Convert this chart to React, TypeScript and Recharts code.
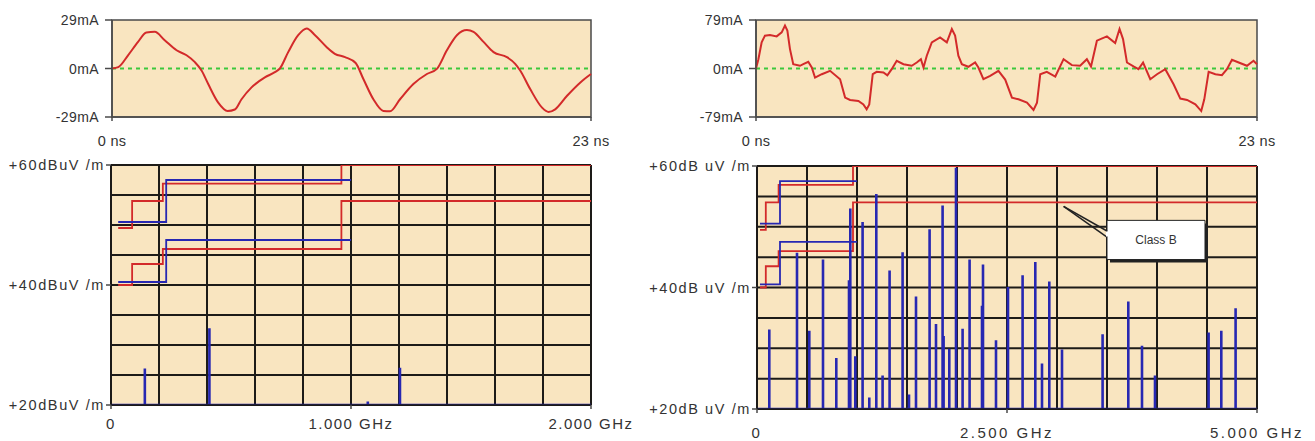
import React from "react";
import { LineChart, Line, XAxis, YAxis, CartesianGrid, ReferenceLine, ReferenceArea } from "recharts";

const BG = "#f9e5c0";
const RED = "#d32a2a";
const BLUE = "#2727b2";
const GRID = "#1d1b18";
const FRAME = "#4a4a4a";
const TEXT = "#333333";
const GREEN = "#3cc83c";
const FONT = "'Liberation Sans', Arial, sans-serif";

// top left: current waveform (ns / mA)
const timeA = [0, 0.3, 0.77, 1.25, 1.65, 2.05, 2.53, 3.1, 3.58, 3.98, 4.3, 4.62, 5.1, 5.55, 5.9, 6.22, 6.7, 7.34, 7.82, 8.06, 8.46, 8.94, 9.35, 9.75, 10.3, 10.7, 11.19, 11.7, 12.07, 12.55, 13.03, 13.35, 13.83, 14.47, 15.12, 15.6, 16.08, 16.56, 17.04, 17.36, 17.84, 18.32, 18.96, 19.36, 19.6, 20.08, 20.65, 20.96, 21.28, 21.85, 22.49, 23];
const currentA = [0, 0.8, 7.9, 15.9, 21.5, 21.9, 16.9, 10.9, 7.9, 3.8, -1.2, -9.3, -20.4, -25.4, -24.5, -18.4, -11.3, -5.3, -2.2, 0, 9.8, 19.9, 23.9, 19.9, 12.9, 8.8, 6.8, 3.3, -6.3, -18.4, -25.4, -25.6, -18.4, -9.3, -3.3, -0.2, 10.9, 19.9, 23, 21.9, 15.9, 9.8, 6.8, 2.8, -1.2, -12.3, -23.4, -26, -24.4, -16.3, -8.3, -3.3];

// top right: current waveform (ns / mA)
const timeB = [0, 0.11, 0.26, 0.41, 0.64, 0.95, 1.18, 1.33, 1.44, 1.56, 1.71, 2.02, 2.17, 2.4, 2.56, 2.71, 3.02, 3.4, 3.86, 4.09, 4.32, 4.7, 4.93, 5.08, 5.2, 5.36, 5.54, 5.85, 6.03, 6.23, 6.46, 6.77, 7.15, 7.38, 7.57, 7.69, 7.84, 8.07, 8.45, 8.76, 8.99, 9.14, 9.29, 9.45, 9.75, 10.06, 10.21, 10.44, 10.75, 11.13, 11.44, 11.75, 12.05, 12.44, 12.74, 12.9, 13.05, 13.35, 13.74, 14.12, 14.5, 14.88, 15.19, 15.38, 15.65, 16.11, 16.49, 16.69, 16.85, 17.03, 17.33, 17.56, 17.77, 18.1, 18.41, 18.79, 19.17, 19.48, 19.79, 20.17, 20.44, 20.58, 20.78, 21.09, 21.39, 21.62, 21.85, 22.16, 22.54, 22.84, 23];
const currentB = [0, 15.2, 42.5, 53.5, 54.5, 52.3, 58.9, 69.8, 61.7, 31.6, 7, 4.4, 7, 10.9, 1.6, -14.7, -9.3, -3.8, -17.5, -47.4, -51.2, -52.8, -58.4, -66.6, -58.4, -9.3, -5.4, -6.5, -11, -1.1, 12.6, 7, 4.4, 9.8, 15.2, 1.6, 20.8, 42.5, 50.7, 42.5, 64.3, 53.5, 20.8, 7, 2.8, 9.8, 1.6, -17.5, -12, -3.8, -18, -47.4, -50.2, -55.6, -67.6, -55.6, -9.3, -5.4, -13.1, 15.2, 5.5, 4.4, 15.2, 3.3, 45.3, 52.3, 41.4, 64.3, 47.9, 9.8, 3.3, -1, 9.8, -17.5, -9.3, -1.1, -25.7, -49, -51.2, -58.4, -69.3, -50.2, -5.4, -9.3, -11, -1.1, 14.2, 9.8, 4.4, 12.6, 7];

// spectrum peaks (GHz / dBuV/m)
const peakFreqA = [0.141, 0.41, 1.07, 1.204];
const peakLevelA = [26.1, 32.8, 20.6, 26.2];
const peakFreqB = [0.123, 0.4, 0.523, 0.66, 0.793, 0.92, 0.933, 0.983, 1.056, 1.123, 1.193, 1.256, 1.326, 1.456, 1.52, 1.59, 1.726, 1.79, 1.856, 1.866, 1.923, 1.99, 2.056, 2.126, 2.25, 2.26, 2.39, 2.51, 2.656, 2.783, 2.85, 2.923, 3.05, 3.456, 3.713, 3.85, 3.98, 4.516, 4.643, 4.786];
const peakLevelB = [33.1, 45.7, 32.9, 44.6, 28.4, 41.2, 53.0, 28.7, 50.8, 21.9, 55.4, 25.5, 42.8, 45.8, 22.4, 38.5, 49.6, 34.0, 53.5, 32.0, 29.9, 59.7, 33.2, 44.6, 37.0, 43.8, 31.3, 40.1, 42.0, 44.2, 27.5, 41.0, 29.8, 32.3, 37.7, 30.4, 25.5, 32.6, 32.9, 36.6];

// limit lines
const fccFreq = [0.03, 0.088, 0.216, 0.96];
const fccClassA = [49.5, 54, 56.9, 60];
const fccClassB = [40, 43.5, 46, 54];
const cisprFreq = [0.03, 0.23, 1.0];
const cisprClassA = [50.5, 57.5, 57.5];
const cisprClassB = [40.5, 47.5, 47.5];

const dbTicks = [20, 25, 30, 35, 40, 45, 50, 55, 60];
const freqTicksA = [0, 0.2, 0.4, 0.6, 0.8, 1, 1.2, 1.4, 1.6, 1.8, 2];
const freqTicksB = [0, 0.5, 1, 1.5, 2, 2.5, 3, 3.5, 4, 4.5, 5];

const zip = (ts: number[], vs: number[]) => ts.map((t, i) => ({ t, mA: vs[i] }));

const steps = (fs: number[], ls: number[], end?: number) => {
  const pts = fs.map((f, i) => ({ f, db: ls[i] }));
  if (end !== undefined) pts.push({ f: end, db: ls[ls.length - 1] });
  return pts;
};

const spectrum = (fs: number[], ls: number[], end: number) => {
  const pts = [{ f: 0, db: 20 }];
  fs.forEach((f, i) => {
    pts.push({ f, db: 20 }, { f, db: ls[i] }, { f, db: 20 });
  });
  pts.push({ f: end, db: 20 });
  return pts;
};

const near = (a: number, b: number) => Math.abs(a - b) < 1e-6;

function leftTick(format: (v: number) => string, size: number, spacing: number, len: number, gap: number) {
  return (p: any) => {
    const label = format(Number(p.payload.value));
    if (!label) return <g />;
    return (
      <g>
        <line x1={p.x - len} x2={p.x} y1={p.y} y2={p.y} stroke={FRAME} strokeWidth={1.5} />
        <text x={p.x - len - gap} y={p.y} dy="0.36em" textAnchor="end" fontSize={size} letterSpacing={spacing} fill={TEXT} fontFamily={FONT}>
          {label}
        </text>
      </g>
    );
  };
}

function bottomTick(format: (v: number) => string, size: number, spacing: number, len: number, dy: number) {
  return (p: any) => {
    const label = format(Number(p.payload.value));
    if (!label) return <g />;
    return (
      <g>
        <line x1={p.x} x2={p.x} y1={p.y} y2={p.y + len} stroke={FRAME} strokeWidth={1.5} />
        <text x={p.x} y={p.y + dy} textAnchor="middle" fontSize={size} letterSpacing={spacing} fill={TEXT} fontFamily={FONT}>
          {label}
        </text>
      </g>
    );
  };
}

function WaveChart(props: { data: { t: number; mA: number }[]; max: number; width: number; right: number; yWidth: number; left: number; smooth: boolean }) {
  const { data, max } = props;
  const yLabel = (v: number) => (near(v, max) ? `${max}mA` : near(v, 0) ? "0mA" : near(v, -max) ? `-${max}mA` : "");
  const xLabel = (v: number) => `${v} ns`;
  return (
    <LineChart width={props.width} height={150} data={data} margin={{ top: 20, right: props.right, bottom: 3, left: props.left }}>
      <CartesianGrid horizontal={false} vertical={false} fill={BG} fillOpacity={1} />
      <XAxis dataKey="t" type="number" domain={[0, 23]} ticks={[0, 23]} height={30} axisLine={{ stroke: FRAME, strokeWidth: 1.5 }} tickLine={false} tickSize={0} tickMargin={0} tick={bottomTick(xLabel, 14.5, 0.3, 4, 29)} />
      <YAxis type="number" domain={[-max, max]} ticks={[-max, 0, max]} width={props.yWidth} axisLine={{ stroke: FRAME, strokeWidth: 1.5 }} tickLine={false} tickSize={0} tickMargin={0} tick={leftTick(yLabel, 14, 0.4, 7, 6)} />
      <ReferenceArea x1={0} x2={23} y1={-max} y2={max} fill="none" fillOpacity={0} stroke={FRAME} strokeWidth={1.5} />
      <ReferenceLine y={0} stroke={GREEN} strokeWidth={2} strokeDasharray="4 4" />
      <Line dataKey="mA" type={props.smooth ? "monotone" : "linear"} stroke={RED} strokeWidth={2} dot={false} activeDot={false} isAnimationActive={false} />
    </LineChart>
  );
}

function SpectrumChart(props: {
  maxF: number; ticks: number[]; width: number; height: number; top: number; right: number; bottom: number; yWidth: number;
  unit: string; xLabels: (v: number) => string; xSpacing: number; xDy: number; ySpacing: number;
  peakF: number[]; peakL: number[]; callout?: boolean;
}) {
  const { maxF } = props;
  const yLabel = (v: number) => (near(v, 60) || near(v, 40) || near(v, 20) ? `+${v}${props.unit}` : "");
  return (
    <LineChart width={props.width} height={props.height} margin={{ top: props.top, right: props.right, bottom: props.bottom, left: 0 }}>
      <CartesianGrid stroke={GRID} strokeWidth={2} fill={BG} fillOpacity={1} />
      <XAxis dataKey="f" type="number" domain={[0, maxF]} ticks={props.ticks} allowDataOverflow height={30} axisLine={{ stroke: GRID, strokeWidth: 1.5 }} tickLine={false} tickSize={0} tickMargin={0} tick={bottomTick(props.xLabels, 15, props.xSpacing, 4, props.xDy)} />
      <YAxis type="number" domain={[20, 60]} ticks={dbTicks} allowDataOverflow width={props.yWidth} axisLine={{ stroke: GRID, strokeWidth: 1.5 }} tickLine={false} tickSize={0} tickMargin={0} tick={leftTick(yLabel, 14.5, props.ySpacing, 5, 1)} />
      <Line data={steps(fccFreq, fccClassA, maxF)} dataKey="db" type="stepAfter" stroke={RED} strokeWidth={1.8} dot={false} activeDot={false} isAnimationActive={false} />
      <Line data={steps(fccFreq, fccClassB, maxF)} dataKey="db" type="stepAfter" stroke={RED} strokeWidth={1.8} dot={false} activeDot={false} isAnimationActive={false} />
      <Line data={steps(cisprFreq, cisprClassA)} dataKey="db" type="stepAfter" stroke={BLUE} strokeWidth={1.8} dot={false} activeDot={false} isAnimationActive={false} />
      <Line data={steps(cisprFreq, cisprClassB)} dataKey="db" type="stepAfter" stroke={BLUE} strokeWidth={1.8} dot={false} activeDot={false} isAnimationActive={false} />
      <Line data={spectrum(props.peakF, props.peakL, maxF)} dataKey="db" type="linear" stroke={BLUE} strokeWidth={2.6} dot={false} activeDot={false} isAnimationActive={false} />
      {props.callout && (
        <ReferenceArea x1={3.53} x2={4.51} y1={44.1} y2={50.55} fill="#222" fillOpacity={1} stroke="none" />
      )}
      {props.callout && (
        <ReferenceArea x1={3.5} x2={4.48} y1={44.6} y2={51.05} fill="#ffffff" fillOpacity={1} stroke="#222" strokeWidth={1} label={{ value: "Class B", position: "center", fontSize: 12, fill: TEXT, fontFamily: FONT }} />
      )}
      {props.callout && (
        <ReferenceLine segment={[{ x: 3.066, y: 53.35 }, { x: 3.5, y: 49.3 }]} stroke="#222" strokeWidth={1.5} />
      )}
      {props.callout && (
        <ReferenceLine segment={[{ x: 3.066, y: 53.35 }, { x: 3.5, y: 48.3 }]} stroke="#222" strokeWidth={1.5} />
      )}
      {props.callout && (
        <ReferenceLine segment={[{ x: 3.5, y: 49.2 }, { x: 3.5, y: 48.4 }]} stroke="#ffffff" strokeWidth={2} />
      )}
    </LineChart>
  );
}

export default function App() {
  const xLabelA = (v: number) => (near(v, 0) ? "0" : near(v, 1) ? "1.000 GHz" : near(v, 2) ? "2.000 GHz" : "");
  const xLabelB = (v: number) => (near(v, 0) ? "0" : near(v, 2.5) ? "2.500 GHz" : near(v, 5) ? "5.000 GHz" : "");
  return (
    <div style={{ position: "fixed", left: 0, top: 0, width: 1315, height: 441, background: "#ffffff", overflow: "hidden" }}>
      <div style={{ position: "absolute", left: 0, top: 0 }}>
        <WaveChart data={zip(timeA, currentA)} max={29} width={620} right={29} yWidth={100} left={12} smooth />
      </div>
      <div style={{ position: "absolute", left: 640, top: 0 }}>
        <WaveChart data={zip(timeB, currentB)} max={79} width={650} right={33} yWidth={116} left={0} smooth={false} />
      </div>
      <div style={{ position: "absolute", left: 0, top: 140 }}>
        <SpectrumChart maxF={2} ticks={freqTicksA} width={660} height={300} top={25} right={69} bottom={5} yWidth={111}
          unit="dBuV /m" xLabels={xLabelA} xSpacing={1.5} xDy={24} ySpacing={1.6} peakF={peakFreqA} peakL={peakLevelA} />
      </div>
      <div style={{ position: "absolute", left: 640, top: 140 }}>
        <SpectrumChart maxF={5} ticks={freqTicksB} width={675} height={300} top={26} right={58} bottom={1} yWidth={117}
          unit="dB uV /m" xLabels={xLabelB} xSpacing={2.5} xDy={29} ySpacing={1.6} peakF={peakFreqB} peakL={peakLevelB} callout />
      </div>
    </div>
  );
}
